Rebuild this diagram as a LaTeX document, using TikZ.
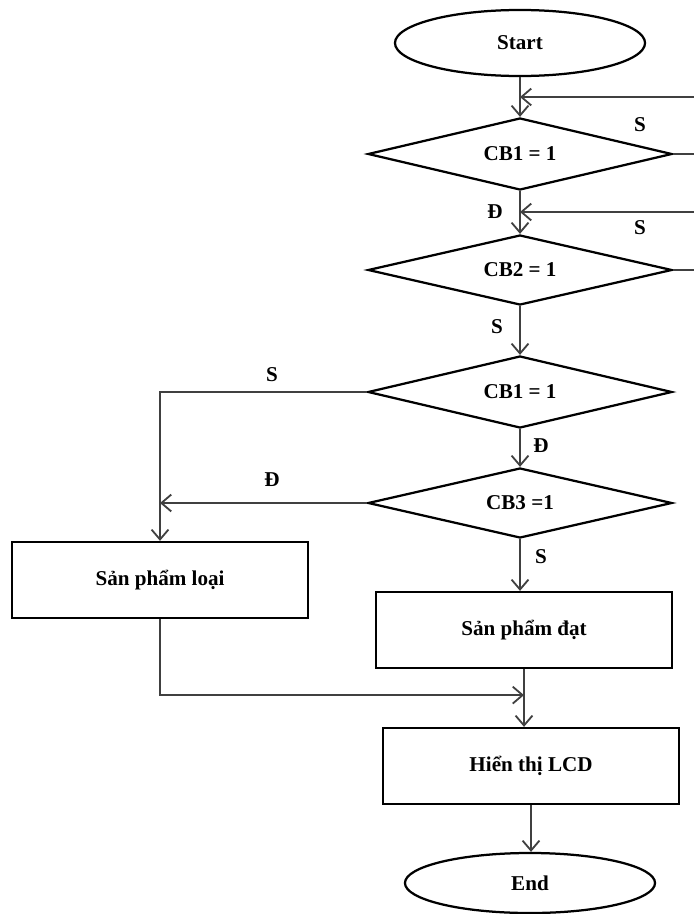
\documentclass[tikz,border=0pt]{standalone}
\usepackage{fontspec}
\setmainfont{Liberation Serif}
\usetikzlibrary{shapes.geometric,arrows.meta,calc}

\newcommand{\lbl}{\fontsize{15}{17}\selectfont\bfseries}
\tikzset{
    term/.style={ellipse,draw,line width=1.6pt,minimum width=6.25cm,minimum height=1.65cm,font=\lbl},
    cond/.style={diamond,draw,aspect=4,line width=1.6pt,inner sep=0pt,minimum width=7.6cm,minimum height=1.8cm,font=\lbl},
    proc/.style={rectangle,draw,line width=1.6pt,minimum width=7.4cm,minimum height=1.9cm,font=\lbl},
    flow/.style={draw=black!75,line width=1.3pt},
    arr/.style={flow,-{Straight Barb[length=7pt,width=12pt]}},
    tag/.style={font=\lbl},
}

\begin{document}
\begin{tikzpicture}[x=0.025cm,y=-0.025cm]
    \useasboundingbox (0,0) rectangle (694,914);
    % blocks
    \node[term] (start) at (520,43) {Start};
    \node[cond] (cb1a) at (520,154) {CB1 = 1};
    \node[cond,minimum height=1.75cm] (cb2) at (520,270) {CB2 = 1};
    \node[cond] (cb1b) at (520,392) {CB1 = 1};
    \node[cond,minimum height=1.75cm] (cb3) at (520,503) {CB3 =1};
    \node[proc] (loai) at (160,580) {Sản phẩm loại};
    \node[proc] (dat) at (524,630) {Sản phẩm đạt};
    \node[proc] (lcd) at (531,766) {Hiển thị LCD};
    \node[term,minimum height=1.5cm] (end) at (530,883) {End};
    % loop ends at the right border
    \coordinate (back1) at (694,97);
    \coordinate (back2) at (694,212);
    \coordinate (out1) at (694,154);
    \coordinate (out2) at (694,270);
    % connectors
    \draw[arr] (start) -- (cb1a);
    \draw[arr] (back1) -- (back1 -| start.south);
    \draw[flow] (cb1a.east) -- (out1);
    \draw[arr] (cb1a) -- (cb2);
    \draw[arr] (back2) -- (back2 -| cb1a.south);
    \draw[flow] (cb2.east) -- (out2);
    \draw[arr] (cb2) -- (cb1b);
    \draw[arr] (cb1b.west) -| (loai.north);
    \draw[arr] (cb1b) -- (cb3);
    \draw[arr] (cb3.west) -- (cb3.west -| loai.north);
    \draw[arr] (cb3.south) -- (cb3.south |- dat.north);
    \draw[arr] (dat.south) -- (dat.south |- lcd.north) coordinate[pos=0.45] (join);
    \draw[arr] (loai.south) |- (join);
    \draw[arr] (lcd.south) -- (lcd.south |- end.north);
    % branch labels
    \node[tag] (s1) at (640,125) {S};
    \node[tag] (d1) at (495,212) {Đ};
    \node[tag] (s2) at (640,228) {S};
    \node[tag] (s3) at (497,327) {S};
    \node[tag] (s4) at (272,375) {S};
    \node[tag] (d2) at (541,446) {Đ};
    \node[tag] (d3) at (272,480) {Đ};
    \node[tag] (s5) at (541,557) {S};
\end{tikzpicture}
\end{document}
